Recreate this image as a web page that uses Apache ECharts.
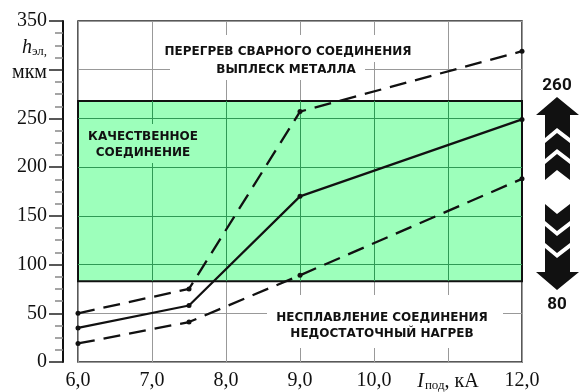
<!DOCTYPE html>
<html><head><meta charset="utf-8">
<script src="https://cdn.jsdelivr.net/npm/echarts@6/dist/echarts.min.js"></script>
<style>html,body{margin:0;padding:0;background:#fff}#c{width:580px;height:392px}</style>
</head><body><div id="c"></div>
<script>
// ---- data ----
const currents = [6.0, 7.5, 9.0, 12.0];
const solidDepth = [35, 58, 170, 249];
const upperDepth = [50, 75, 257, 319];
const lowerDepth = [19, 41, 89, 188];
const qualityBand = [83, 268];
const xTicks = [6, 7, 8, 9, 10, 11, 12];
const xTickLabels = ['6,0', '7,0', '8,0', '9,0', '10,0', '{i|I}{s|под}{n|, кА}', '12,0'];
const yTicks = [0, 50, 100, 150, 200, 250, 300, 350];
const yTickLabels = ['0', '50', '100', '150', '200', '250', '{u|мкм}', '350'];
const upperMark = '260';
const lowerMark = '80';

const pts = arr => currents.map((x, i) => [x, arr[i]]);
const serif = 'Liberation Serif';
const capFont = 'bold 12px "DejaVu Sans"';

const innerV = xTicks.filter(x => x > xTicks[0] && x < xTicks[xTicks.length - 1])
  .map(x => [{coord: [x, qualityBand[0]]}, {coord: [x, qualityBand[1]]}]);
const innerH = yTicks.filter(y => y > qualityBand[0] && y < qualityBand[1])
  .map(y => [{coord: [xTicks[0], y]}, {coord: [xTicks[xTicks.length - 1], y]}]);

const lineSeries = (arr, dashed) => ({
  type: 'line', data: pts(arr), z: 10,
  symbol: 'circle', symbolSize: 5, showSymbol: true,
  itemStyle: {color: '#111'},
  lineStyle: {color: '#111', width: dashed ? 2.3 : 2.2, type: dashed ? [17, 9] : 'solid'},
  animation: false, silent: true
});

const chart = echarts.init(document.getElementById('c'), null, {renderer: 'canvas'});
chart.setOption({
  animation: false,
  grid: {left: 78, right: 58, top: 21, bottom: 30, show: true, borderColor: '#222', borderWidth: 1.5, backgroundColor: 'transparent'},
  xAxis: {
    type: 'value', min: xTicks[0], max: xTicks[xTicks.length - 1], interval: 1,
    axisLine: {show: false}, axisTick: {show: false},
    splitLine: {show: true, lineStyle: {color: '#999', width: 1}},
    axisLabel: {
      margin: 9, color: '#111', fontFamily: serif, fontSize: 20,
      formatter: v => xTickLabels[xTicks.indexOf(Math.round(v))] || '',
      rich: {
        i: {fontFamily: serif, fontSize: 20, fontStyle: 'italic', color: '#111'},
        s: {fontFamily: serif, fontSize: 13, color: '#111', padding: [8, 0, 0, 1]},
        n: {fontFamily: serif, fontSize: 20, color: '#111'}
      }
    }
  },
  yAxis: {
    type: 'value', min: yTicks[0], max: yTicks[yTicks.length - 1], interval: 50, offset: 15,
    axisLine: {show: true, lineStyle: {color: '#111', width: 2}},
    axisTick: {show: true, length: 14, lineStyle: {color: '#222', width: 1.5}},
    minorTick: {show: true, splitNumber: 4, length: 8, lineStyle: {color: '#888', width: 1.5}},
    splitLine: {show: true, lineStyle: {color: '#999', width: 1}},
    axisLabel: {
      margin: 16, color: '#111', fontFamily: serif, fontSize: 20,
      formatter: v => yTickLabels[yTicks.indexOf(Math.round(v))] || '',
      rich: {u: {fontFamily: serif, fontSize: 20, color: '#111', padding: [6, 0, 0, 0]}}
    }
  },
  series: [
    {
      type: 'line', data: [], z: 1, silent: true,
      markArea: {
        silent: true, z: 1,
        itemStyle: {color: '#9dffbb', borderColor: '#111', borderWidth: 2},
        label: {show: false},
        data: [[{coord: [xTicks[0], qualityBand[0]]}, {coord: [xTicks[xTicks.length - 1], qualityBand[1]]}]]
      },
      markLine: {
        silent: true, z: 2, symbol: 'none', label: {show: false},
        lineStyle: {color: '#2f9a55', width: 1, type: 'solid'},
        data: innerV.concat(innerH)
      }
    },
    lineSeries(upperDepth, true),
    lineSeries(solidDepth, false),
    lineSeries(lowerDepth, true)
  ],
  graphic: [
    {type: 'rect', z: 3, shape: {x: 156, y: 35, width: 269, height: 27}, style: {fill: '#fff'}},
    {type: 'rect', z: 3, shape: {x: 170, y: 62, width: 195, height: 18}, style: {fill: '#fff'}},
    {type: 'rect', z: 3, shape: {x: 88, y: 124, width: 112, height: 39}, style: {fill: '#9dffbb'}},
    {type: 'rect', z: 3, shape: {x: 267, y: 295, width: 236, height: 53}, style: {fill: '#fff'}},
    {type: 'text', z: 4, x: 288, y: 52, style: {text: 'ПЕРЕГРЕВ СВАРНОГО СОЕДИНЕНИЯ', font: capFont, fill: '#111', textAlign: 'center', textVerticalAlign: 'middle'}},
    {type: 'text', z: 4, x: 286, y: 70, style: {text: 'ВЫПЛЕСК МЕТАЛЛА', font: capFont, fill: '#111', textAlign: 'center', textVerticalAlign: 'middle'}},
    {type: 'text', z: 4, x: 143, y: 137, style: {text: 'КАЧЕСТВЕННОЕ', font: capFont, fill: '#111', textAlign: 'center', textVerticalAlign: 'middle'}},
    {type: 'text', z: 4, x: 143, y: 153, style: {text: 'СОЕДИНЕНИЕ', font: capFont, fill: '#111', textAlign: 'center', textVerticalAlign: 'middle'}},
    {type: 'text', z: 4, x: 382, y: 318, style: {text: 'НЕСПЛАВЛЕНИЕ СОЕДИНЕНИЯ', font: capFont, fill: '#111', textAlign: 'center', textVerticalAlign: 'middle'}},
    {type: 'text', z: 4, x: 382, y: 334, style: {text: 'НЕДОСТАТОЧНЫЙ НАГРЕВ', font: capFont, fill: '#111', textAlign: 'center', textVerticalAlign: 'middle'}},
    {type: 'text', z: 4, x: 47, y: 48, style: {
      text: '{h|h}{s|эл,}', textAlign: 'right', textVerticalAlign: 'middle',
      rich: {h: {fontFamily: serif, fontSize: 20, fontStyle: 'italic', fill: '#111'},
             s: {fontFamily: serif, fontSize: 13, fill: '#111', padding: [8, 0, 0, 0]}}
    }},
    {type: 'text', z: 4, x: 557, y: 86, style: {text: upperMark, font: 'bold 17px Roboto', fill: '#111', textAlign: 'center', textVerticalAlign: 'middle'}},
    {type: 'text', z: 4, x: 557, y: 305, style: {text: lowerMark, font: 'bold 17px Roboto', fill: '#111', textAlign: 'center', textVerticalAlign: 'middle'}},
    // up arrow stack
    {type: 'polygon', z: 4, shape: {points: [[557, 97], [579, 115], [570, 115], [570, 138], [557, 128], [545, 138], [545, 115], [536, 115]]}, style: {fill: '#111'}},
    {type: 'polygon', z: 4, shape: {points: [[545, 143], [557, 133], [570, 143], [570, 159], [557, 149], [545, 159]]}, style: {fill: '#111'}},
    {type: 'polygon', z: 4, shape: {points: [[545, 164], [557, 154], [570, 164], [570, 180], [557, 170], [545, 180]]}, style: {fill: '#111'}},
    // down arrow stack
    {type: 'polygon', z: 4, shape: {points: [[545, 204], [557, 214], [570, 204], [570, 221], [557, 231], [545, 221]]}, style: {fill: '#111'}},
    {type: 'polygon', z: 4, shape: {points: [[545, 226], [557, 236], [570, 226], [570, 243], [557, 253], [545, 243]]}, style: {fill: '#111'}},
    {type: 'polygon', z: 4, shape: {points: [[545, 248], [557, 258], [570, 248], [570, 272], [579, 272], [557, 290], [536, 272], [545, 272]]}, style: {fill: '#111'}}
  ]
});
</script>
</body></html>
